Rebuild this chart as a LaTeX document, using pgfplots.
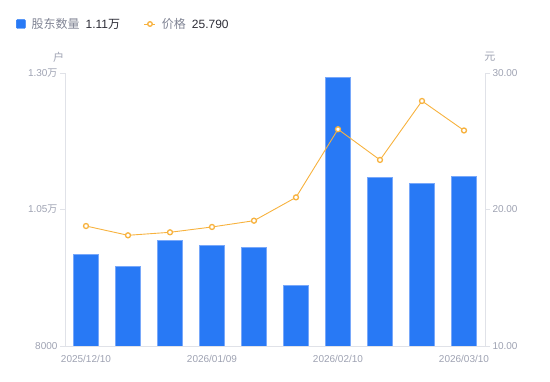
\documentclass[border=0pt]{standalone}
\usepackage{pgfplots}
\pgfplotsset{compat=1.18}
\usepackage{fontspec}
\setmainfont{Liberation Sans}
\newfontfamily\cjk{Noto Sans CJK SC}
\definecolor{barblue}{RGB}{40,121,245}
\definecolor{baredge}{RGB}{120,168,250}
\definecolor{priceor}{RGB}{247,178,62}
\definecolor{axgray}{RGB}{224,226,232}
\definecolor{tickgray}{RGB}{158,162,178}
\definecolor{legtext}{RGB}{128,132,148}
\definecolor{darktext}{RGB}{45,45,55}
\begin{document}
\begin{tikzpicture}
\useasboundingbox (0,0) rectangle (550pt,381pt);
\begin{axis}[
  at={(65pt,35pt)}, anchor=south west,
  scale only axis, width=420pt, height=273pt,
  xmin=-0.5, xmax=9.5, ymin=8000, ymax=13000,
  clip mode=individual,
  axis x line*=bottom, axis y line*=left,
  axis line style={axgray, line width=0.8pt},
  xtick={0,3,6,9}, xticklabels={2025/12/10,2026/01/09,2026/02/10,2026/03/10},
  x tick style={draw=none},
  xticklabel style={yshift=-1pt},
  ytick={8000,10500,13000}, yticklabels={8000,1.05{\cjk 万},1.30{\cjk 万}},
  y tick style={axgray, line width=0.8pt}, tick align=outside, major tick length=5pt,
  yticklabel style={xshift=1pt},
  ticklabel style={font=\fontsize{10}{12}\selectfont, text=tickgray},
  /pgf/number format/assume math mode=true,
  scaled y ticks=false,
  ybar, bar width=25pt,
]
\addplot[fill=barblue, draw=baredge, line width=0.6pt] coordinates {
 (0,9676) (1,9460) (2,9936) (3,9844) (4,9808)
 (5,9112) (6,12914) (7,11090) (8,10985) (9,11108)};
\node[text=tickgray, font=\fontsize{11}{12}\selectfont\cjk] at (rel axis cs:-0.015,1.0586) {户};
\node[text=tickgray, font=\fontsize{11}{12}\selectfont\cjk] at (rel axis cs:1.0119,1.0586) {元};
\end{axis}
\begin{axis}[
  at={(65pt,35pt)}, anchor=south west,
  scale only axis, width=420pt, height=273pt,
  xmin=-0.5, xmax=9.5, ymin=10, ymax=30,
  axis x line=none, axis y line*=right,
  axis line style={axgray, line width=0.8pt},
  ytick={10,20,30}, yticklabels={10.00,20.00,30.00},
  y tick style={axgray, line width=0.8pt}, tick align=outside, major tick length=5pt,
  ticklabel style={font=\fontsize{10}{12}\selectfont, text=tickgray},
  yticklabel style={xshift=-1pt},
  /pgf/number format/assume math mode=true,
  legend columns=2,
  legend style={at={(-0.1167,1.1795)}, anchor=west, draw=none, fill=none,
    inner sep=0pt, font=\fontsize{12}{14}\selectfont,
    /tikz/every odd column/.style={column sep=4pt},
    /tikz/every even column/.style={column sep=22pt}},
  legend cell align=left,
]
\addlegendimage{legend image code/.code={\fill[barblue, rounded corners=1pt] (0pt,-4.5pt) rectangle (9pt,4.5pt);}}
\addlegendentry{{\cjk\color{legtext}股东数量}\hspace{6pt}{\color{darktext}1.11{\cjk 万}}}
\addplot[priceor, line width=0.9pt, mark=*, mark size=2.5pt,
  mark options={fill=white, draw=priceor, line width=1.3pt},
  legend image code/.code={\draw[priceor, line width=0.9pt] (0pt,0pt) -- (11pt,0pt);
    \draw[priceor, line width=1.3pt, fill=white] (5.5pt,0pt) circle (2.3pt);}]
 coordinates {
 (0,18.79) (1,18.11) (2,18.33) (3,18.72) (4,19.18)
 (5,20.89) (6,25.88) (7,23.63) (8,27.95) (9,25.79)};
\addlegendentry{{\cjk\color{legtext}价格}\hspace{6pt}{\color{darktext}25.790}}
\end{axis}
\end{tikzpicture}
\end{document}
